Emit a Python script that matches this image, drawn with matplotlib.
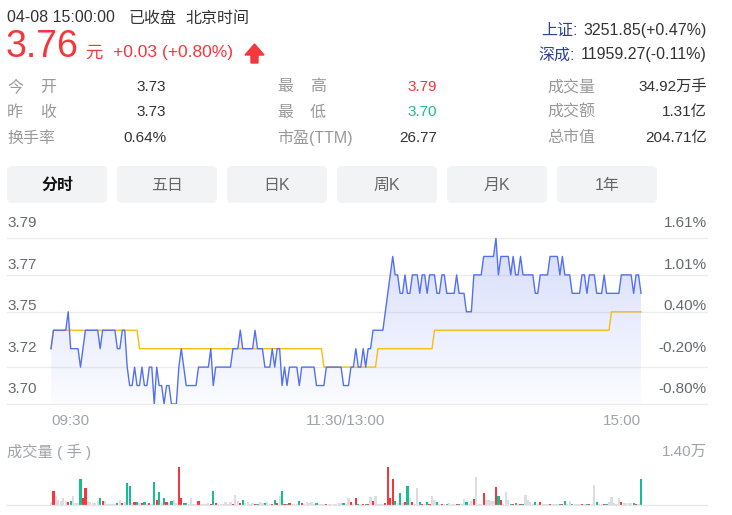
import numpy as np
import matplotlib
matplotlib.use("Agg")
import matplotlib.pyplot as plt
from matplotlib.patches import FancyBboxPatch, Polygon
from matplotlib.transforms import IdentityTransform, ScaledTranslation, blended_transform_factory

plt.rcParams['font.family'] = ['Liberation Sans', 'Noto Sans CJK SC']

W, H = 732, 515
prev_close = 3.73

# minute prices 09:30 .. 15:00 (241 points)
price = [
    3.73, 3.74, 3.74, 3.74, 3.74, 3.74, 3.74, 3.75, 3.73, 3.73,
    3.73, 3.73, 3.72, 3.73, 3.74, 3.74, 3.74, 3.74, 3.74, 3.74,
    3.73, 3.74, 3.74, 3.74, 3.74, 3.74, 3.74, 3.73, 3.73, 3.74,
    3.74, 3.72, 3.71, 3.71, 3.72, 3.71, 3.71, 3.72, 3.71, 3.71,
    3.72, 3.72, 3.70, 3.72, 3.71, 3.71, 3.70, 3.71, 3.71, 3.70,
    3.70, 3.70, 3.72, 3.73, 3.72, 3.71, 3.71, 3.71, 3.71, 3.71,
    3.72, 3.72, 3.72, 3.72, 3.72, 3.73, 3.71, 3.72, 3.72, 3.72,
    3.72, 3.72, 3.72, 3.72, 3.73, 3.73, 3.73, 3.74, 3.73, 3.73,
    3.73, 3.73, 3.73, 3.74, 3.73, 3.73, 3.73, 3.72, 3.72, 3.72,
    3.73, 3.72, 3.73, 3.73, 3.71, 3.72, 3.71, 3.72, 3.72, 3.72,
    3.72, 3.71, 3.72, 3.72, 3.72, 3.72, 3.72, 3.72, 3.71, 3.71,
    3.71, 3.71, 3.72, 3.72, 3.72, 3.72, 3.72, 3.72, 3.72, 3.71,
    3.71, 3.71, 3.72, 3.72, 3.73, 3.72, 3.72, 3.73, 3.72, 3.73,
    3.73, 3.74, 3.74, 3.74, 3.74, 3.74, 3.75, 3.76, 3.77, 3.78,
    3.77, 3.77, 3.76, 3.76, 3.77, 3.76, 3.76, 3.77, 3.77, 3.77,
    3.76, 3.77, 3.77, 3.76, 3.77, 3.77, 3.77, 3.76, 3.76, 3.77,
    3.77, 3.76, 3.76, 3.76, 3.76, 3.77, 3.76, 3.76, 3.76, 3.75,
    3.75, 3.75, 3.77, 3.77, 3.77, 3.77, 3.78, 3.78, 3.78, 3.78,
    3.78, 3.79, 3.77, 3.78, 3.78, 3.78, 3.78, 3.77, 3.78, 3.77,
    3.77, 3.78, 3.77, 3.77, 3.77, 3.77, 3.77, 3.76, 3.76, 3.77,
    3.77, 3.77, 3.77, 3.78, 3.78, 3.78, 3.78, 3.77, 3.78, 3.77,
    3.77, 3.77, 3.76, 3.76, 3.76, 3.76, 3.77, 3.77, 3.76, 3.77,
    3.77, 3.77, 3.76, 3.76, 3.76, 3.77, 3.76, 3.76, 3.76, 3.76,
    3.76, 3.76, 3.77, 3.77, 3.77, 3.77, 3.77, 3.76, 3.77, 3.77,
    3.76,
]

# average price line, as runs of (level, minutes)
avg_levels = [3.73, 3.74, 3.73, 3.72, 3.73, 3.74, 3.75]
avg_runs = [1, 35, 75, 22, 23, 72, 13]

# minute volume (手)
volume = [
    1000, 5100, 3400, 1900, 1500, 2700, 1500, 1100, 1500, 3200,
    600, 600, 9500, 2400, 6100, 1500, 1000, 900, 900, 1500,
    2500, 1500, 1500, 500, 400, 400, 400, 750, 2000, 750,
    1000, 8100, 7100, 750, 1100, 1100, 750, 750, 1100, 400,
    750, 400, 8500, 2000, 4900, 600, 2400, 1100, 600, 1500,
    1900, 600, 14000, 2400, 900, 600, 400, 2400, 400, 400,
    1400, 400, 400, 500, 600, 400, 5100, 600, 400, 500,
    400, 1000, 400, 1000, 400, 3750, 1600, 600, 1900, 600,
    1250, 400, 900, 400, 400, 1250, 750, 600, 1250, 400,
    400, 1750, 600, 3250, 5100, 400, 400, 600, 400, 400,
    400, 1400, 750, 400, 1250, 900, 1100, 400, 600, 400,
    400, 400, 400, 400, 400, 400, 400, 600, 600, 600,
    400, 2500, 1100, 400, 2500, 400, 400, 400, 400, 400,
    2900, 1500, 3250, 400, 400, 400, 600, 14000, 2400, 9500,
    1500, 600, 4400, 600, 1100, 7000, 2400, 1100, 400, 6100,
    1100, 400, 400, 1100, 400, 3250, 2000, 1100, 400, 400,
    400, 400, 900, 400, 400, 400, 400, 400, 2250, 1000,
    400, 1400, 2250, 10250, 400, 400, 4250, 2000, 2000, 1500,
    1500, 6500, 3250, 1900, 400, 4750, 2000, 400, 400, 600,
    400, 400, 400, 3750, 1750, 1100, 400, 1000, 400, 1000,
    400, 400, 400, 400, 400, 400, 400, 400, 400, 1500,
    400, 1500, 400, 400, 400, 400, 400, 400, 400, 400,
    400, 7500, 1000, 400, 400, 400, 400, 1000, 3000, 600,
    400, 2750, 1000, 900, 900, 900, 900, 600, 300, 400,
    9500,
]

grid_prices = [3.79, 3.77, 3.75, 3.72, 3.70]
price_labels = ["3.79", "3.77", "3.75", "3.72", "3.70"]
pct_labels = ["1.61%", "1.01%", "0.40%", "-0.20%", "-0.80%"]
time_labels = ["09:30", "11:30/13:00", "15:00"]
time_pos = [0, 120, 240]
tabs = ["分时", "五日", "日K", "周K", "月K", "1年"]

RED = '#f5363a'
GREEN = '#16bc92'
GRAY_BAR = '#dcdde3'
BLUE = '#5470f2'
YELLOW = '#fbbc10'

fig = plt.figure(figsize=(W / 100, H / 100), dpi=100)
fig.patch.set_facecolor('white')


def txt(x, y, s, **kw):
    kw.setdefault('va', 'center')
    fig.text(x / W, 1 - y / H, s, **kw)


# header
txt(7, 18, "04-08 15:00:00", color='#333333', fontsize=11.5)
txt(128, 18, "已收盘", color='#333333', fontsize=11.5)
txt(185, 18, "北京时间", color='#333333', fontsize=11.5)
txt(6, 47, "3.76", color=RED, fontsize=27)
txt(85, 53, "元", color=RED, fontsize=12.5)
txt(113, 53, "+0.03 (+0.80%)", color=RED, fontsize=12.5)
arrow = Polygon([(254.5, 44), (264, 55), (258, 55), (258, 63), (251, 63), (251, 55), (245, 55)],
                closed=True, color=RED, transform=IdentityTransform())
arrow.set_xy([(x, H - y) for x, y in arrow.get_xy()])
fig.add_artist(arrow)

txt(541, 30, "上证:", color='#2e3f9e', fontsize=11.5)
txt(707, 30, "3251.85(+0.47%)", color='#333333', fontsize=11.5, ha='right')
txt(538, 55, "深成:", color='#2e3f9e', fontsize=11.5)
txt(707, 55, "11959.27(-0.11%)", color='#333333', fontsize=11.5, ha='right')

# stats block
LBL = '#999999'
VAL = '#333333'
rows = [87, 112, 138]
txt(7, rows[0], "今", color=LBL, fontsize=11.5)
txt(40, rows[0], "开", color=LBL, fontsize=11.5)
txt(7, rows[1], "昨", color=LBL, fontsize=11.5)
txt(40, rows[1], "收", color=LBL, fontsize=11.5)
txt(7, rows[2], "换手率", color=LBL, fontsize=11.5)
txt(166, rows[0], "3.73", color=VAL, fontsize=11, ha='right')
txt(166, rows[1], "3.73", color=VAL, fontsize=11, ha='right')
txt(166, rows[2], "0.64%", color=VAL, fontsize=11, ha='right')

txt(277, rows[0], "最", color=LBL, fontsize=11.5)
txt(310, rows[0], "高", color=LBL, fontsize=11.5)
txt(277, rows[1], "最", color=LBL, fontsize=11.5)
txt(310, rows[1], "低", color=LBL, fontsize=11.5)
txt(277, rows[2], "市盈(TTM)", color=LBL, fontsize=11.5)
txt(437, rows[0], "3.79", color=RED, fontsize=11, ha='right')
txt(437, rows[1], "3.70", color=GREEN, fontsize=11, ha='right')
txt(437, rows[2], "26.77", color=VAL, fontsize=11, ha='right')

txt(547, rows[0], "成交量", color=LBL, fontsize=11.5)
txt(547, rows[1], "成交额", color=LBL, fontsize=11.5)
txt(547, rows[2], "总市值", color=LBL, fontsize=11.5)
txt(707, rows[0], "34.92万手", color=VAL, fontsize=11, ha='right')
txt(707, rows[1], "1.31亿", color=VAL, fontsize=11, ha='right')
txt(707, rows[2], "204.71亿", color=VAL, fontsize=11, ha='right')

# tab buttons
for i, t in enumerate(tabs):
    x0 = 7 + 110 * i
    box = FancyBboxPatch((x0, H - 203), 100, 37, boxstyle="round,pad=0,rounding_size=5",
                         facecolor='#f2f3f5', edgecolor='none', transform=IdentityTransform())
    fig.add_artist(box)
    if i == 0:
        txt(x0 + 50, 185, t, color='#111111', fontsize=11.5, ha='center', fontweight='bold')
    else:
        txt(x0 + 50, 185, t, color='#666666', fontsize=11.5, ha='center')


def axes_px(left, top, right, bottom):
    return fig.add_axes([left / W, 1 - bottom / H, (right - left) / W, (bottom - top) / H])


px_per_min = 590 / 240
xlim = (-44 / px_per_min, 240 + 66 / px_per_min)
minutes = np.arange(len(price))
avg = np.repeat(avg_levels, avg_runs)

# price chart
ax = axes_px(7, 238, 707, 404)
ax.axis('off')
for g in grid_prices:
    ax.axhline(g, color='#ececef', lw=0.9, zorder=0, clip_on=False)

poly = ax.fill_between(minutes, price, 3.70, color='none', lw=0)
grad = np.zeros((256, 1, 4))
grad[:, 0, 0] = 84 / 255
grad[:, 0, 1] = 112 / 255
grad[:, 0, 2] = 240 / 255
grad[:, 0, 3] = np.linspace(0.24, 0.02, 256)
im = ax.imshow(grad, extent=[0, 240, 3.70, 3.79], aspect='auto', origin='upper', zorder=1)
im.set_clip_path(poly.get_paths()[0], transform=ax.transData)

ax.plot(minutes, avg, color=YELLOW, lw=1.0, zorder=2)
ax.plot(minutes, price, color=BLUE, lw=1.0, zorder=3)
ax.set_xlim(*xlim)
ax.set_ylim(3.70, 3.79)

up = ScaledTranslation(0, 15 / 100, fig.dpi_scale_trans)
for i in range(len(price_labels)):
    frac = 1 - i / (len(price_labels) - 1)
    ax.text(0, frac, price_labels[i], transform=ax.transAxes + up, ha='left', va='center',
            color='#666970', fontsize=11)
    ax.text(1, frac, pct_labels[i], transform=ax.transAxes + up, ha='right', va='center',
            color='#666970', fontsize=11)

down = ScaledTranslation(0, -17 / 100, fig.dpi_scale_trans)
tx = blended_transform_factory(ax.transData, ax.transAxes)
for lab, pos, ha in zip(time_labels, time_pos, ['left', 'center', 'right']):
    ax.text(pos, 0, lab, transform=tx + down, ha=ha, va='center', color='#a0a3ab', fontsize=11)

# volume chart
txt(7, 452, "成交量 ( 手 )", color='#a0a3ab', fontsize=11)
txt(707, 452, "1.40万", color='#a0a3ab', fontsize=11, ha='right')

vax = axes_px(7, 467, 707, 505)
vax.axis('off')
prev = [prev_close] + price[:-1]
colors = []
for p, q in zip(price, prev):
    if p > q:
        colors.append(RED)
    elif p < q:
        colors.append(GREEN)
    else:
        colors.append(GRAY_BAR)
vax.bar(minutes, volume, width=0.9, color=colors, linewidth=0, clip_on=False)
vax.axhline(0, color='#e6e7eb', lw=0.9, clip_on=False)
vax.set_xlim(*xlim)
vax.set_ylim(0, 14000)

fig.savefig("out.png", dpi=100, facecolor='white')
